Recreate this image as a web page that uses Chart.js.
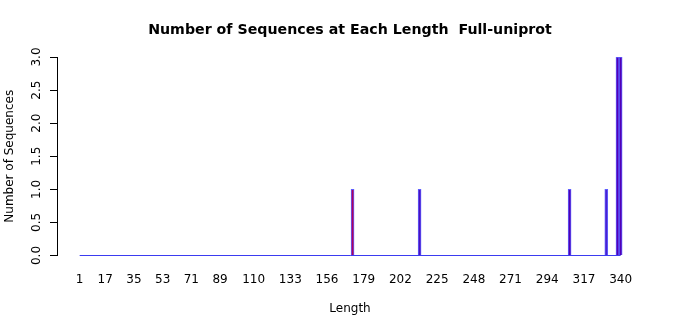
<!DOCTYPE html>
<html>
<head>
<meta charset="utf-8">
<script src="https://cdn.jsdelivr.net/npm/chart.js@4.4.1/dist/chart.umd.min.js"></script>
<style>
  html, body { margin: 0; padding: 0; background: #ffffff; }
  #wrap { width: 700px; height: 315px; }
</style>
</head>
<body>
<div id="wrap"><canvas id="c" width="700" height="315"></canvas></div>
<script>
// ---- data ----
const lengths = [172, 214, 308, 331, 338, 340];
const counts = [1, 1, 1, 1, 3, 3];
const lengthRange = [1, 340];
const xTickLabels = [1, 17, 35, 53, 71, 89, 110, 133, 156, 179, 202, 225, 248, 271, 294, 317, 340];
const yTicks = [0, 0.5, 1, 1.5, 2, 2.5, 3];

// ---- styles ----
const barFills = ['#b0005f', '#4a10c0', '#5000b4', '#4a20d0', '#5200b4', '#5200b4'];
const FONT = 'DejaVu Sans';

const rotatedYTicks = {
  id: 'rotatedYTicks',
  afterDraw(chart) {
    const y = chart.scales.y;
    const ctx = chart.ctx;
    ctx.save();
    ctx.fillStyle = '#000';
    ctx.font = '12px "' + FONT + '"';
    ctx.textAlign = 'center';
    ctx.textBaseline = 'middle';
    yTicks.forEach(v => {
      const py = y.getPixelForValue(v);
      ctx.save();
      ctx.translate(37, py);
      ctx.rotate(-Math.PI / 2);
      ctx.fillText(v.toFixed(1), 0, 0);
      ctx.restore();
    });
    ctx.restore();
  }
};

new Chart(document.getElementById('c'), {
  type: 'bar',
  data: {
    datasets: [
      {
        type: 'line',
        data: lengthRange.map(l => ({ x: l, y: 0 })),
        borderColor: '#3b3bf0',
        borderWidth: 1,
        pointRadius: 0,
        clip: false,
        order: 2
      },
      {
        type: 'bar',
        data: lengths.map((l, i) => ({ x: l, y: counts[i] })),
        backgroundColor: barFills,
        borderColor: 'rgba(40,40,255,0.75)',
        borderWidth: 1,
        borderSkipped: 'start',
        barThickness: 3,
        order: 1
      }
    ]
  },
  options: {
    responsive: false,
    animation: false,
    layout: { padding: 0 },
    plugins: {
      legend: { display: false },
      tooltip: { enabled: false },
      title: {
        display: true,
        text: 'Number of Sequences at Each Length  Full-uniprot',
        color: '#000',
        font: { family: FONT, size: 14.2, weight: 'bold', lineHeight: 1.2 },
        padding: { top: 22, bottom: 17.96 }
      }
    },
    scales: {
      x: {
        type: 'linear',
        offset: false,
        min: -13.2,
        max: 354.0,
        border: { display: false },
        grid: { display: false, drawTicks: false, offset: false },
        afterBuildTicks(scale) {
          scale.ticks = xTickLabels.map(v => ({ value: v }));
        },
        afterFit(scale) { scale.height = 59.5; },
        ticks: {
          autoSkip: false,
          maxRotation: 0,
          minRotation: 0,
          padding: 17.5,
          color: '#000',
          font: { family: FONT, size: 12 },
          callback: v => String(v)
        },
        title: {
          display: true,
          text: 'Length',
          color: '#000',
          font: { family: FONT, size: 12, lineHeight: 1.1 },
          padding: { top: 0, bottom: 0 }
        }
      },
      y: {
        min: 0,
        max: 3,
        afterBuildTicks(scale) {
          scale.ticks = yTicks.map(v => ({ value: v }));
        },
        afterFit(scale) { scale.width = 57; },
        border: { display: true, color: '#000', width: 1 },
        grid: { drawOnChartArea: false, drawTicks: true, tickLength: 7, color: '#000' },
        ticks: { display: false },
        title: {
          display: true,
          text: 'Number of Sequences',
          color: '#000',
          font: { family: FONT, size: 12, lineHeight: 1.1 },
          padding: { top: 3, bottom: 0 }
        }
      },
      yRight: {
        type: 'linear',
        axis: 'y',
        position: 'right',
        display: true,
        min: 0,
        max: 3,
        afterFit(scale) { scale.width = 57; },
        border: { display: false },
        grid: { display: false, drawTicks: false },
        ticks: { display: false },
        title: { display: false }
      }
    }
  },
  plugins: [rotatedYTicks]
});
</script>
</body>
</html>
